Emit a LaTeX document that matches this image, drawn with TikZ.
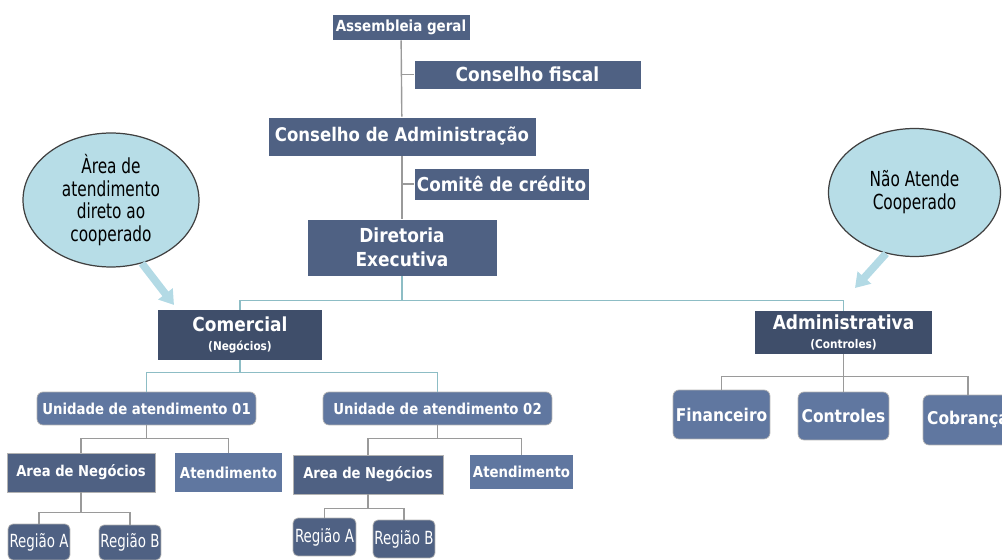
\documentclass[tikz,border=0pt]{standalone}
\usepackage{fontspec}
\setmainfont{DejaVu Sans}[FakeStretch=0.88]
\newfontfamily\thinfont{DejaVu Sans}[FakeStretch=0.74]
\usetikzlibrary{arrows.meta}
\definecolor{boxblue}{HTML}{4F6183}
\definecolor{darkblue}{HTML}{3F4E6A}
\definecolor{lightblue}{HTML}{6077A0}
\definecolor{bubble}{HTML}{B7DDE7}
\definecolor{bubblearrow}{HTML}{B3DAE5}
\definecolor{tealline}{HTML}{8DBDC5}
\definecolor{grayline}{HTML}{9A9A9A}
\tikzset{
  orgbox/.style={fill=boxblue, text=white, inner sep=0pt, align=center},
  topbox/.style={orgbox, draw=white, line width=0.4pt},
  headbox/.style={orgbox, fill=darkblue},
  unitbox/.style={orgbox, fill=lightblue, draw=gray!60, rounded corners=0.12cm},
  regbox/.style={orgbox, draw=gray!60, rounded corners=0.1cm, font=\thinfont\fontsize{10.3}{12}\selectfont},
  bubblenode/.style={ellipse, fill=bubble, draw=black!75, line width=0.7pt, align=center, inner sep=0pt, font=\thinfont\fontsize{11.8}{13}\selectfont},
  callarrow/.style={bubblearrow, line width=4.3pt, -{Triangle[width=10pt,length=8pt]}},
  tline/.style={tealline, line width=0.8pt},
  gline/.style={grayline, line width=0.8pt}
}
\usetikzlibrary{shapes.geometric}
\begin{document}
\begin{tikzpicture}[x=0.02cm,y=-0.02cm]
\useasboundingbox (0,0) rectangle (1002,560);
\node[topbox, minimum width=2.76cm, minimum height=0.52cm, font=\bfseries\fontsize{8.7}{10}\selectfont] (ag) at (401,27) {Assembleia geral};
\node[topbox, minimum width=4.54cm, minimum height=0.58cm, font=\bfseries\fontsize{11}{13}\selectfont] (cf) at (527.5,74.5) {Conselho fiscal};
\node[topbox, minimum width=5.36cm, minimum height=0.78cm, font=\bfseries\fontsize{10.7}{13}\selectfont] (ca) at (402,136.5) {Conselho de Administração};
\node[topbox, minimum width=3.5cm, minimum height=0.64cm, font=\bfseries\fontsize{10.9}{13}\selectfont] (cc) at (501.5,184) {Comitê de crédito};
\node[topbox, minimum width=3.8cm, minimum height=1.14cm, font=\bfseries\fontsize{11}{14}\selectfont] (de) at (402,247.5) {Diretoria\\Executiva};

\node[headbox, minimum width=3.28cm, minimum height=1.0cm, font=\bfseries\fontsize{11}{12}\selectfont] (com) at (240,335) {Comercial\\[-1pt]{\fontsize{6.8}{8}\selectfont(Negócios)}};
\node[headbox, minimum width=3.54cm, minimum height=0.86cm, font=\bfseries\fontsize{11}{12}\selectfont] (adm) at (843.5,332.5) {Administrativa\\[-1pt]{\fontsize{6.8}{8}\selectfont(Controles)}};

\node[bubblenode, minimum width=3.52cm, minimum height=2.68cm] (el1) at (111,200) {Àrea de\\atendimento\\direto ao\\cooperado};
\node[bubblenode, minimum width=3.44cm, minimum height=2.56cm] (el2) at (914.5,192.5) {Não Atende\\Cooperado};
\coordinate (p1) at (174,305);
\coordinate (p2) at (855,288);

\node[unitbox, minimum width=4.38cm, minimum height=0.66cm, font=\bfseries\fontsize{8.6}{10}\selectfont] (u1) at (146.5,408.5) {Unidade de atendimento 01};
\node[unitbox, minimum width=4.58cm, minimum height=0.66cm, font=\bfseries\fontsize{8.6}{10}\selectfont] (u2) at (437.5,408.5) {Unidade de atendimento 02};
\node[orgbox, draw=gray!60, minimum width=2.96cm, minimum height=0.78cm, font=\bfseries\fontsize{8.5}{10}\selectfont] (an1) at (81,472.5) {Area de Negócios};
\node[orgbox, fill=lightblue, minimum width=2.14cm, minimum height=0.78cm, font=\bfseries\fontsize{8.6}{10}\selectfont] (at1) at (228.5,472.5) {Atendimento};
\node[orgbox, draw=gray!60, minimum width=3.0cm, minimum height=0.78cm, font=\bfseries\fontsize{8.5}{10}\selectfont] (an2) at (368,474.5) {Area de Negócios};
\node[orgbox, fill=lightblue, minimum width=2.06cm, minimum height=0.68cm, font=\bfseries\fontsize{8.6}{10}\selectfont] (at2) at (521.5,472) {Atendimento};

\node[regbox, minimum width=1.24cm, minimum height=0.72cm] (ra1) at (39,542) {Região A};
\node[regbox, minimum width=1.24cm, minimum height=0.70cm] (rb1) at (130,542.5) {Região B};
\node[regbox, minimum width=1.26cm, minimum height=0.76cm] (ra2) at (324.5,537) {Região A};
\node[regbox, minimum width=1.24cm, minimum height=0.76cm] (rb2) at (404,539) {Região B};

\node[unitbox, minimum width=1.94cm, minimum height=0.98cm, font=\bfseries\fontsize{10}{12}\selectfont] (fin) at (721.5,414.5) {Financeiro};
\node[unitbox, minimum width=1.82cm, minimum height=0.96cm, font=\bfseries\fontsize{10}{12}\selectfont] (ctl) at (843.5,416) {Controles};
\node[unitbox, minimum width=1.8cm, minimum height=1.0cm, font=\bfseries\fontsize{10}{12}\selectfont] (cob) at (968,420) {Cobrança};

% top chain
\path[draw,gline] (ag) -- (ca);
\path[draw,gline] (ca) -- (de);
\path[draw,gline] (cf.west) -- (cf.west -| ag.south);
\path[draw,gline] (cc.west) -- (cc.west -| ca.south);

% diretoria
\path[draw,tline] (de.south) -- ++(0,24) -| (com.north);
\path[draw,tline] (de.south) -- ++(0,24) -| (adm.north);
\path[draw,tline] (com.south) -- ++(0,12) -| (u1.north);
\path[draw,tline] (com.south) -- ++(0,12) -| (u2.north);

\path[draw,gline] (u1.south) -- ++(0,13) -| (an1.north);
\path[draw,gline] (u1.south) -- ++(0,13) -| (at1.north);
\path[draw,gline] (an1.south) -- ++(0,20) -| (ra1.north);
\path[draw,gline] (an1.south) -- ++(0,20) -| (rb1.north);
\path[draw,gline] (u2.south) -- ++(0,13) -| (an2.north);
\path[draw,gline] (u2.south) -- ++(0,13) -| (at2.north);
\path[draw,gline] (an2.south) -- ++(0,14) -| (ra2.north);
\path[draw,gline] (an2.south) -- ++(0,14) -| (rb2.north);

\path[draw,gline] (adm.south) -- ++(0,22) -| (fin.north);
\path[draw,gline] (adm.south) -- (ctl.north);
\path[draw,gline] (adm.south) -- ++(0,22) -| (cob.north);

% bubbles
\path[draw,callarrow] (el1.-64) -- (p1);
\path[draw,callarrow] (el2.-115) -- (p2);
\end{tikzpicture}
\end{document}
